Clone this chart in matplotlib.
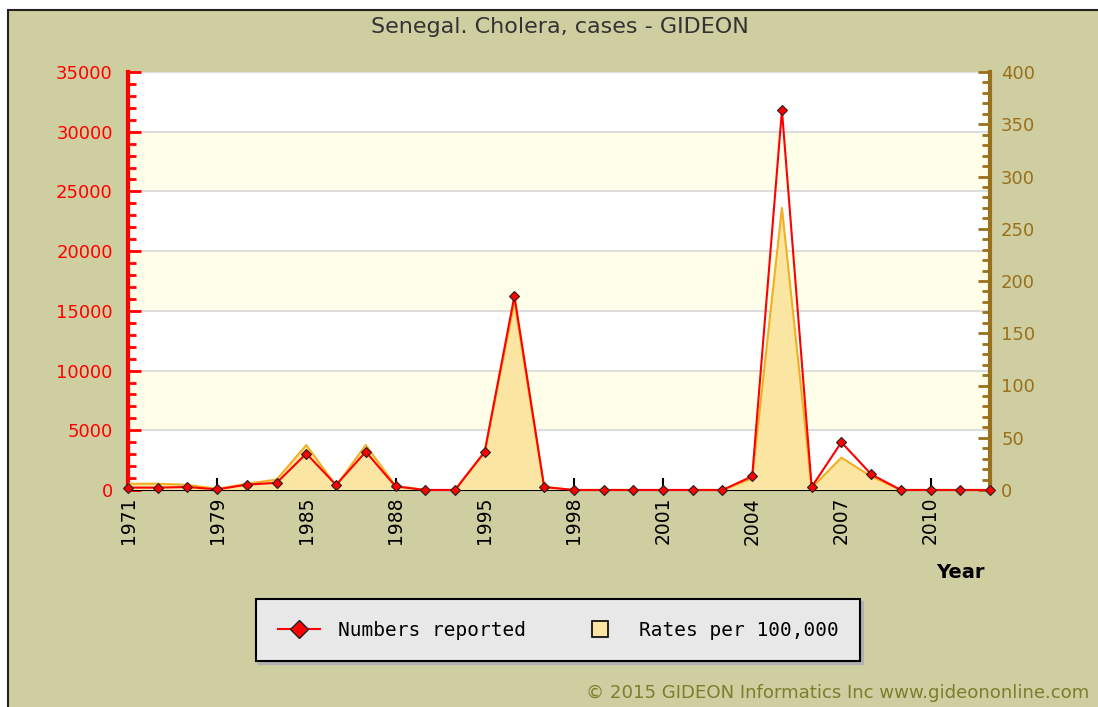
import matplotlib
matplotlib.use("Agg")
import matplotlib.pyplot as plt
from matplotlib.lines import Line2D
from matplotlib.patches import Rectangle
from matplotlib.ticker import MultipleLocator

# data
years = [1971, 1973, 1977, 1979, 1981, 1983, 1985, 1986, 1987, 1988,
         1990, 1993, 1995, 1996, 1997, 1998, 1999, 2000, 2001, 2002,
         2003, 2004, 2005, 2006, 2007, 2008, 2009, 2010, 2011, 2012]
cases = [200, 200, 250, 50, 450, 600, 3050, 420, 3200, 300,
         0, 0, 3200, 16250, 250, 0, 0, 0, 0, 0,
         0, 1150, 31800, 250, 4000, 1320, 0, 0, 0, 0]
rates = [6, 6, 5, 1, 6, 10, 43, 4, 43, 4,
         0, 0, 36, 180, 3, 0, 0, 0, 0, 0,
         0, 11, 270, 2, 31, 13, 0, 0, 0, 0]

bg = '#cfcea0'
red = '#ff0000'
brown = '#98701c'
fill = '#fae5a2'
x = list(range(len(years)))

fig = plt.figure(figsize=(10.98, 7.07), dpi=100)
fig.patch.set_facecolor('white')
fig.patches.append(Rectangle((8 / 1098, -0.05), 1.1, (707 - 10) / 707 + 0.05,
                             transform=fig.transFigure, facecolor=bg,
                             edgecolor='#222222', linewidth=1.5, zorder=-10))

pos = [128 / 1098, 1 - 490 / 707, (990 - 128) / 1098, (490 - 72) / 707]
ax = fig.add_axes(pos)
ax.set_facecolor('white')

# alternating bands and grid lines (every 5000 on the left scale)
for k in range(7):
    if k % 2 == 1:
        ax.add_patch(Rectangle((0, k / 7), 1, 1 / 7, transform=ax.transAxes,
                               facecolor='#fefee9', edgecolor='none', zorder=0))
for k in range(1, 8):
    ax.plot([0, 1], [k / 7, k / 7], transform=ax.transAxes, color='#dddddd',
            linewidth=1.5, zorder=0.5)

ax.set_xlim(0, len(years) - 1)
ax.set_ylim(0, 35000)
ax.yaxis.set_major_locator(MultipleLocator(5000))
ax.yaxis.set_minor_locator(MultipleLocator(1000))
ax.set_xticks(x[::3])
ax.set_xticklabels([str(y) for y in years[::3]], rotation=90, fontsize=13.5)
ax.tick_params(axis='x', direction='in', length=9, width=1.5, color='black', pad=5)
ax.tick_params(axis='y', which='major', direction='in', length=9, width=2,
               color=red, labelcolor=red, labelsize=13, pad=11)
ax.tick_params(axis='y', which='minor', direction='in', length=6, width=2, color=red)
for s in ['top', 'right']:
    ax.spines[s].set_visible(False)
ax.spines['left'].set_color(red)
ax.spines['left'].set_linewidth(3)
ax.spines['bottom'].set_color('black')
ax.spines['bottom'].set_linewidth(1.5)
ax.spines['bottom'].set_zorder(5)

# rates on the right axis
ax2 = ax.twinx()
ax2.patch.set_visible(False)
ax2.set_ylim(0, 400)
ax2.fill_between(x, rates, color=fill, edgecolor='none', zorder=1)
ax2.plot(x, rates, color='#f0b020', linewidth=1.5, zorder=2)
ax2.yaxis.set_major_locator(MultipleLocator(50))
ax2.yaxis.set_minor_locator(MultipleLocator(10))
ax2.tick_params(axis='y', which='major', direction='in', length=9, width=2,
                color=brown, labelcolor=brown, labelsize=13, pad=8)
ax2.tick_params(axis='y', which='minor', direction='in', length=6, width=2, color=brown)
for s in ['top', 'left', 'bottom']:
    ax2.spines[s].set_visible(False)
ax2.spines['right'].set_color(brown)
ax2.spines['right'].set_linewidth(3)

# numbers reported on top, left scale
ax3 = fig.add_axes(pos, sharex=ax, sharey=ax)
ax3.patch.set_visible(False)
ax3.axis('off')
ax3.plot(x, cases, color=red, linewidth=1.5, marker='D', markersize=5,
         markerfacecolor=red, markeredgecolor='#222222', markeredgewidth=0.8,
         clip_on=False)

fig.text(560 / 1098, 1 - 27 / 707, 'Senegal. Cholera, cases - GIDEON',
         ha='center', va='center', fontsize=16, color='#333333')
fig.text(960 / 1098, 1 - 572 / 707, 'Year', ha='center', va='center',
         fontsize=14, fontweight='bold', color='black')

handles = [Line2D([0], [0], color=red, linewidth=1.5, marker='D', markersize=9,
                  markerfacecolor=red, markeredgecolor='#222222'),
           Line2D([0], [0], linestyle='none', marker='s', markersize=11,
                  markerfacecolor=fill, markeredgecolor='black', markeredgewidth=1.2)]
leg = fig.legend(handles, ['Numbers reported', 'Rates per 100,000'], ncol=2,
                 loc='center', bbox_to_anchor=(558 / 1098, 1 - 630 / 707),
                 prop={'family': 'DejaVu Sans Mono', 'size': 14},
                 fancybox=False, shadow={'color': '#b0b0b0', 'alpha': 1},
                 frameon=True, edgecolor='black', facecolor='#e8e8e8',
                 framealpha=1, borderpad=1.1, columnspacing=2.7,
                 handlelength=2.2, handletextpad=0.9)
leg.get_frame().set_linewidth(1.5)

fig.text(586 / 1098, 1 - 693 / 707,
         '\u00a9 2015 GIDEON Informatics Inc www.gideononline.com',
         ha='left', va='center', fontsize=13.1, color='#7d7d2e')

fig.savefig('out.png', dpi=100)
